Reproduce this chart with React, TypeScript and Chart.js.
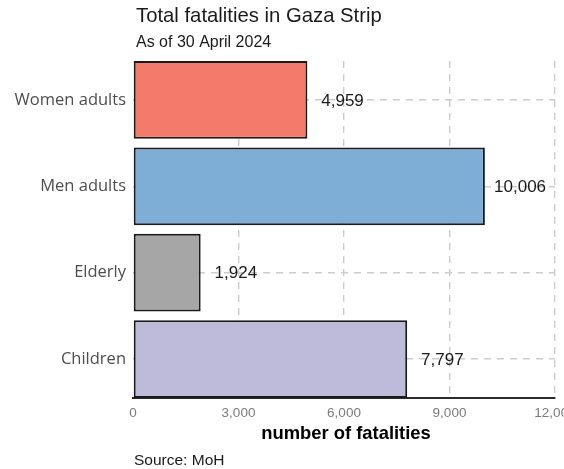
import React, { useEffect, useRef } from "react";
import { Chart, registerables } from "chart.js";

Chart.register(...registerables);

const categories = ["Women adults", "Men adults", "Elderly", "Children"];
const fatalities = [4959, 10006, 1924, 7797];
const barColors = ["#F47B6B", "#7EAED6", "#A6A6A6", "#BEBADA"];
const xTicksMax = 12000;
const xTickStep = 3000;

const titleText = "Total fatalities in Gaza Strip";
const subtitleText = "As of 30 April 2024";
const xAxisTitle = "number of fatalities";
const sourceText = "Source: MoH";

const SANS = "'Liberation Sans', Arial, sans-serif";

export default function App() {
  const ref = useRef<HTMLCanvasElement | null>(null);

  useEffect(() => {
    const canvas = ref.current;
    if (!canvas) return;
    const textPlugin = {
      id: "texts",
      afterDatasetsDraw(chart: any) {
        const ctx = chart.ctx;
        const xs = chart.scales.x;
        const meta = chart.getDatasetMeta(0);
        ctx.save();
        ctx.fillStyle = "#1a1a1a";
        ctx.font = `17px ${SANS}`;
        ctx.textAlign = "center";
        ctx.textBaseline = "middle";
        meta.data.forEach((el: any, i: number) => {
          const x = xs.getPixelForValue(fatalities[i] + 1000);
          ctx.fillText(fatalities[i].toLocaleString("en-US"), x, el.y + 1);
        });
        ctx.restore();
      },
      afterDraw(chart: any) {
        const ctx = chart.ctx;
        const area = chart.chartArea;
        ctx.save();
        ctx.fillStyle = "#1a1a1a";
        ctx.textBaseline = "alphabetic";
        ctx.textAlign = "left";
        ctx.font = `20.3px ${SANS}`;
        ctx.fillText(titleText, 136, 22);
        ctx.font = `16px ${SANS}`;
        ctx.fillText(subtitleText, 136, 47);
        ctx.font = `15.5px ${SANS}`;
        ctx.fillText(sourceText, 134, 465);
        ctx.fillStyle = "#000000";
        ctx.textAlign = "center";
        ctx.font = `bold 18.4px ${SANS}`;
        ctx.fillText(xAxisTitle, (area.left + area.right) / 2 + 2, 439);
        ctx.restore();
      },
    };

    const chart = new Chart(canvas, {
      type: "bar",
      data: {
        datasets: [
          {
            data: fatalities.map((v, i) => ({ x: v, y: i })),
            backgroundColor: barColors,
            borderColor: "#1a1a1a",
            borderWidth: 2,
            borderSkipped: false,
            barPercentage: 0.9,
            categoryPercentage: 1,
          },
        ],
      },
      options: {
        indexAxis: "y",
        responsive: false,
        animation: false,
        devicePixelRatio: 1,
        locale: "en-US",
        layout: { padding: { top: 61, right: 45, left: 0, bottom: 0 } },
        plugins: {
          legend: { display: false },
          tooltip: { enabled: false },
          title: { display: false },
        },
        scales: {
          x: {
            type: "linear",
            position: "bottom",
            offset: false,
            min: 0,
            max: xTicksMax,
            ticks: {
              stepSize: xTickStep,
              color: "#7a7a7a",
              padding: 7,
              maxRotation: 0,
              autoSkip: false,
              font: { family: SANS, size: 13.5 },
            },
            grid: {
              offset: false,
              drawTicks: false,
              lineWidth: 1.4,
              color: (c: any) => (c.tick && c.tick.value === 0 ? "rgba(0,0,0,0)" : "#cccccc"),
            },
            border: { display: true, color: "#2b2b2b", width: 2, dash: [7, 6] },
            afterFit: (s: any) => {
              s.height = 71;
              s.paddingLeft = 0;
              s.paddingRight = 0;
            },
          },
          y: {
            type: "linear",
            reverse: true,
            offset: false,
            min: -0.45,
            max: categories.length - 1 + 0.45,
            afterBuildTicks: (s: any) => {
              s.ticks = categories.map((_, i) => ({ value: i }));
            },
            ticks: {
              color: "#4d4d4d",
              padding: 7,
              autoSkip: false,
              font: { family: "'Open Sans', sans-serif", size: 16.5 },
              callback: (v: any) => categories[Math.round(Number(v))] ?? "",
            },
            grid: {
              offset: false,
              drawTicks: false,
              lineWidth: 1.4,
              color: "#cccccc",
            },
            border: { display: false, dash: [7, 6] },
            afterFit: (s: any) => {
              s.width = 133;
              s.paddingTop = 0;
              s.paddingBottom = 0;
            },
          },
        },
      },
      plugins: [textPlugin],
    } as any);
    return () => chart.destroy();
  }, []);

  return (
    <div
      style={{
        position: "fixed",
        left: 0,
        top: 0,
        width: 564,
        height: 469,
        overflow: "hidden",
        background: "#ffffff",
      }}
    >
      <canvas ref={ref} width={600} height={469} style={{ display: "block" }} />
    </div>
  );
}
